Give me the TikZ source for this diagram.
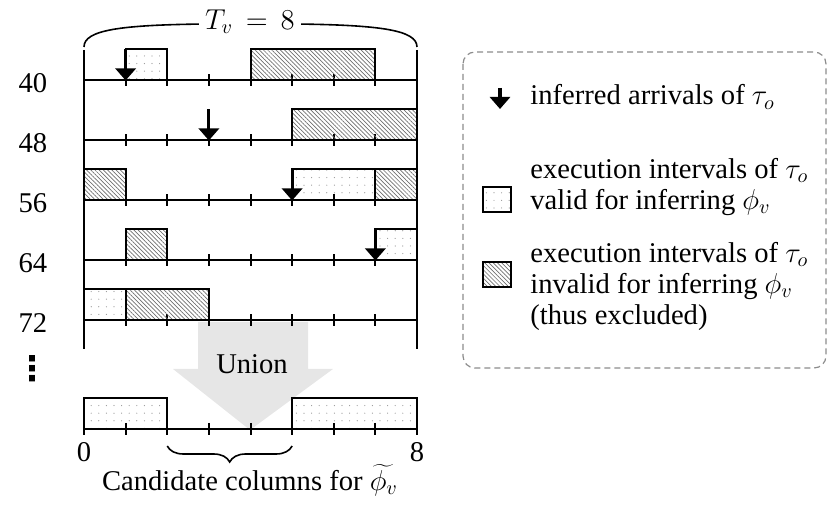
\documentclass[tikz,border=0pt]{standalone}
\usepackage{fontspec}
\setmainfont{Liberation Serif}
\newfontfamily\symfont{DejaVu Sans}
\usetikzlibrary{
  arrows.meta,
  patterns.meta,
  decorations.pathreplacing,
  positioning
}
\definecolor{unioncolor}{RGB}{230, 230, 230}
\definecolor{framecolor}{RGB}{140, 140, 140}
\definecolor{hatchcolor}{RGB}{110, 110, 110}
\definecolor{dotcolor}{RGB}{150, 150, 150}
% x position of time t on the timelines (px)
\newcommand{\tpos}[1]{84+41.625*(#1)}
% execution interval: style, baseline, start, end
\newcommand{\interval}[4]{\draw[#1] ({\tpos{#3}},#2) rectangle ({\tpos{#4}},{#2-31});}
\tikzset{
axis/.style={
  line width=1pt
},
validbox/.style={
  draw,
  line width=1pt,
  pattern={Dots[distance=3.8pt, radius=0.3pt]},
  pattern color=dotcolor
},
invalidbox/.style={
  draw,
  line width=1pt,
  pattern={Lines[angle=-45, distance=1.5pt, line width=0.35pt]},
  pattern color=hatchcolor
},
keybox/.style={
  minimum width=14pt,
  minimum height=12.5pt,
  inner sep=0pt
},
arrival/.style={
  -{Triangle[length=6pt, width=10pt]},
  line width=1.6pt
},
legendframe/.style={
  draw=framecolor,
  dashed,
  dash pattern=on 3pt off 2pt,
  rounded corners=6pt,
  line width=0.6pt
},
rowlabel/.style={
  inner sep=0pt
},
legendtext/.style={
  align=left,
  inner sep=0pt,
  anchor=west
}
}

\begin{document}
\begin{tikzpicture}[x=0.5pt, y=-0.5pt, font=\fontsize{14.3}{15.5}\selectfont]
\useasboundingbox (0,0) rectangle (830,512);

% union arrow (behind the timelines)
\fill[unioncolor] (198,322) -- (308,322) -- (308,369) -- (333,369) -- (250,430)
  -- (173,369) -- (198,369) -- cycle;
\node (union) at (252,364) {Union};

% timelines of the jobs
\foreach \lab [count=\i from 0] in {40,48,56,64,72} {
  \pgfmathsetmacro{\rowy}{80.5+60*\i}
  \node[rowlabel] (row\lab) at (33,{\rowy+3}) {\lab};
  \draw[axis] ({\tpos{0}},\rowy) -- ({\tpos{8}},\rowy);
  \foreach \t in {1,...,7}
    \draw[axis] ({\tpos{\t}},{\rowy-6}) -- ({\tpos{\t}},{\rowy+6});
}
\draw[axis] ({\tpos{0}},50) -- ({\tpos{0}},349);
\draw[axis] ({\tpos{8}},50) -- ({\tpos{8}},349);
\node[font=\symfont\bfseries\fontsize{17}{17}\selectfont, inner sep=0pt] (moredots) at (33,369) {⋮};

% period brace
\draw[line width=0.8pt] ({\tpos{0}},47) .. controls ({\tpos{0}},30) and (120,25) .. (205,24)
  -- (295,24) .. controls (380,25) and ({\tpos{8}},30) .. ({\tpos{8}},47);
\node[fill=white, inner sep=3pt] (period) at (250,22) {$T_v\,=\,8$};

% 40
\interval{validbox}{80.5}{1}{2}
\interval{invalidbox}{80.5}{4}{7}
\draw[arrival] ({\tpos{1}},49.5) -- ({\tpos{1}},80.5);
% 48
\interval{invalidbox}{140.5}{5}{8}
\draw[arrival] ({\tpos{3}},109.5) -- ({\tpos{3}},140.5);
% 56
\interval{invalidbox}{200.5}{0}{1}
\interval{validbox}{200.5}{5}{7}
\interval{invalidbox}{200.5}{7}{8}
\draw[arrival] ({\tpos{5}},169.5) -- ({\tpos{5}},200.5);
% 64
\interval{invalidbox}{260.5}{1}{2}
\interval{validbox}{260.5}{7}{8}
\draw[arrival] ({\tpos{7}},229.5) -- ({\tpos{7}},260.5);
% 72
\interval{validbox}{320.5}{0}{1}
\interval{invalidbox}{320.5}{1}{3}

% union of the valid intervals
\interval{validbox}{429}{0}{2}
\interval{validbox}{429}{5}{8}
\draw[axis] ({\tpos{0}},429) -- ({\tpos{8}},429);
\foreach \t in {0,...,8}
  \draw[axis] ({\tpos{\t}},423) -- ({\tpos{\t}},435);
\node (zero) at ({\tpos{0}},452) {0};
\node (eight) at ({\tpos{8}},452) {8};
\coordinate (gapstart) at ({\tpos{2}},446);
\coordinate (gapend) at ({\tpos{5}},446);
\draw[line width=0.8pt, decorate, decoration={brace, mirror, amplitude=8pt}] (gapstart) -- (gapend);
\node (candidate) at (250,480) {Candidate columns for $\widetilde{\phi_v}$};

% legend
\draw[legendframe] (463,52) rectangle (826,368);
\coordinate (arrowtop) at (500,88);
\coordinate (arrowend) at (500,109);
\draw[arrival] (arrowtop) -- (arrowend);
\node[legendtext] (arrivaltext) at (530,97) {inferred arrivals of $\tau_o$};
\node[validbox, keybox] (validkey) at (497,200) {};
\node[legendtext] (validtext) at (530,187) {execution intervals of $\tau_o$\\valid for inferring $\phi_v$};
\node[invalidbox, keybox] (invalidkey) at (497,275) {};
\node[legendtext] (invalidtext) at (530,286) {execution intervals of $\tau_o$\\invalid for inferring $\phi_v$\\(thus excluded)};
\end{tikzpicture}
\end{document}
